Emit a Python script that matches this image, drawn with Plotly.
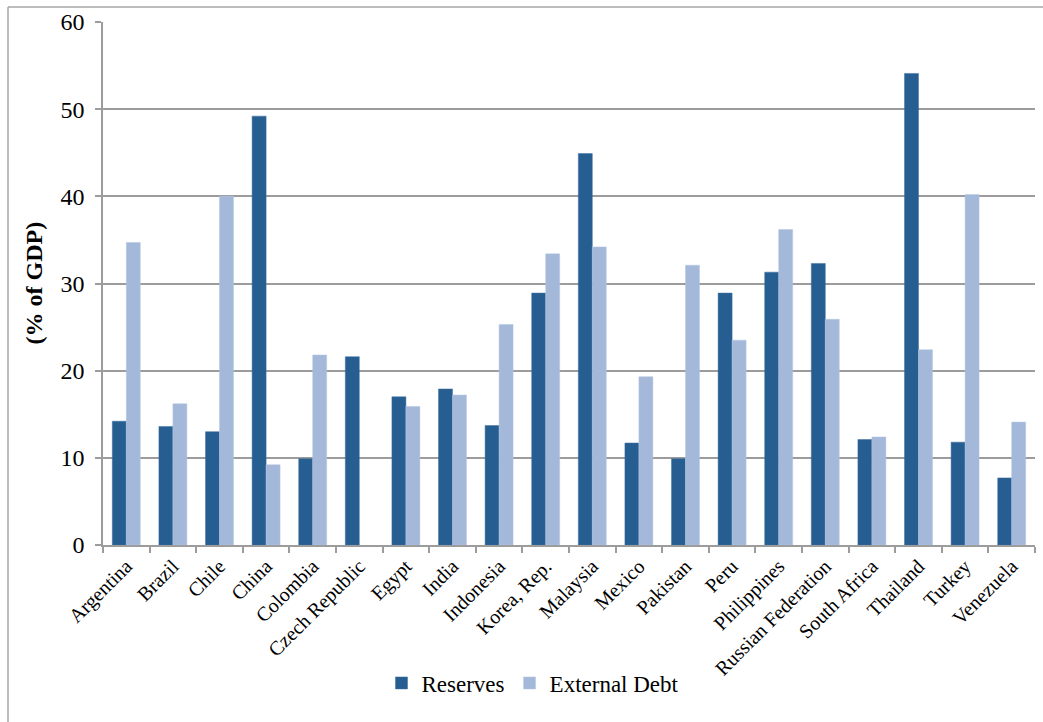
import plotly.graph_objects as go

countries = ["Argentina", "Brazil", "Chile", "China", "Colombia", "Czech Republic",
             "Egypt", "India", "Indonesia", "Korea, Rep.", "Malaysia", "Mexico",
             "Pakistan", "Peru", "Philippines", "Russian Federation", "South Africa",
             "Thailand", "Turkey", "Venezuela"]
reserves = [14.2, 13.6, 13.0, 49.2, 9.9, 21.6, 17.0, 17.9, 13.7, 28.9, 44.9, 11.7,
            9.9, 28.9, 31.3, 32.3, 12.1, 54.1, 11.8, 7.7]
external_debt = [34.7, 16.2, 40.0, 9.2, 21.8, None, 15.9, 17.2, 25.3, 33.4, 34.2, 19.3,
                 32.1, 23.5, 36.2, 25.9, 12.4, 22.4, 40.2, 14.1]
y_ticks = [0, 10, 20, 30, 40, 50, 60]

W, H = 1043, 722
L, R, T, B = 103, 1035, 22, 545
pw, ph = R - L, B - T

def px_x(x):
    return (x - L) / pw

def px_y(y):
    return (B - y) / ph

serif = "Liberation Serif, Times New Roman, serif"
grid_col = "#9C9C9C"

fig = go.Figure()
fig.add_trace(go.Bar(name="Reserves", x=countries, y=reserves,
                     marker=dict(color="#275E91", line=dict(color="#3A6E9E", width=0.5))))
fig.add_trace(go.Bar(name="External Debt", x=countries, y=external_debt,
                     marker=dict(color="#A4B8DA", line=dict(color="#B4C6E2", width=0.5))))

fig.update_layout(
    width=W, height=H,
    margin=dict(l=L, r=W - R, t=T, b=H - B),
    paper_bgcolor="white", plot_bgcolor="white",
    barmode="group", bargap=0.4, bargroupgap=0,
    font=dict(family=serif, color="black"),
    showlegend=True,
    legend=dict(orientation="h", x=px_x(533), y=px_y(683), xanchor="center", yanchor="middle",
                font=dict(family=serif, size=23, color="black"), itemwidth=30,
                traceorder="normal", bgcolor="rgba(0,0,0,0)"),
)
fig.update_xaxes(
    type="category", tickangle=-45, tickson="boundaries", ticks="outside", ticklen=6,
    tickcolor=grid_col, tickwidth=1.5, showline=True, linecolor=grid_col, linewidth=1.5,
    showgrid=False, tickfont=dict(family=serif, size=20, color="black"),
)
fig.update_yaxes(
    range=[0, 60], tickvals=y_ticks, ticktext=[str(v) for v in y_ticks],
    ticks="outside", ticklen=6, tickcolor=grid_col, tickwidth=1.5,
    showline=True, linecolor=grid_col, linewidth=1.5,
    showgrid=True, gridcolor=grid_col, gridwidth=1.5, zeroline=False,
    tickfont=dict(family=serif, size=24, color="black"), ticklabelstandoff=6,
)
fig.add_annotation(text="<b>(% of GDP)</b>", xref="paper", yref="paper",
                   x=px_x(33), y=0.5, textangle=-90, showarrow=False,
                   xanchor="center", yanchor="middle",
                   font=dict(family=serif, size=24, color="black"))
# outer chart frame (left and top edges visible)
fig.add_shape(type="line", xref="paper", yref="paper",
              x0=px_x(8), x1=px_x(8), y0=px_y(7), y1=px_y(740),
              line=dict(color="#A6A6A6", width=1.5))
fig.add_shape(type="line", xref="paper", yref="paper",
              x0=px_x(8), x1=px_x(1060), y0=px_y(7), y1=px_y(7),
              line=dict(color="#A6A6A6", width=1.5))

fig.write_html("out.html")
